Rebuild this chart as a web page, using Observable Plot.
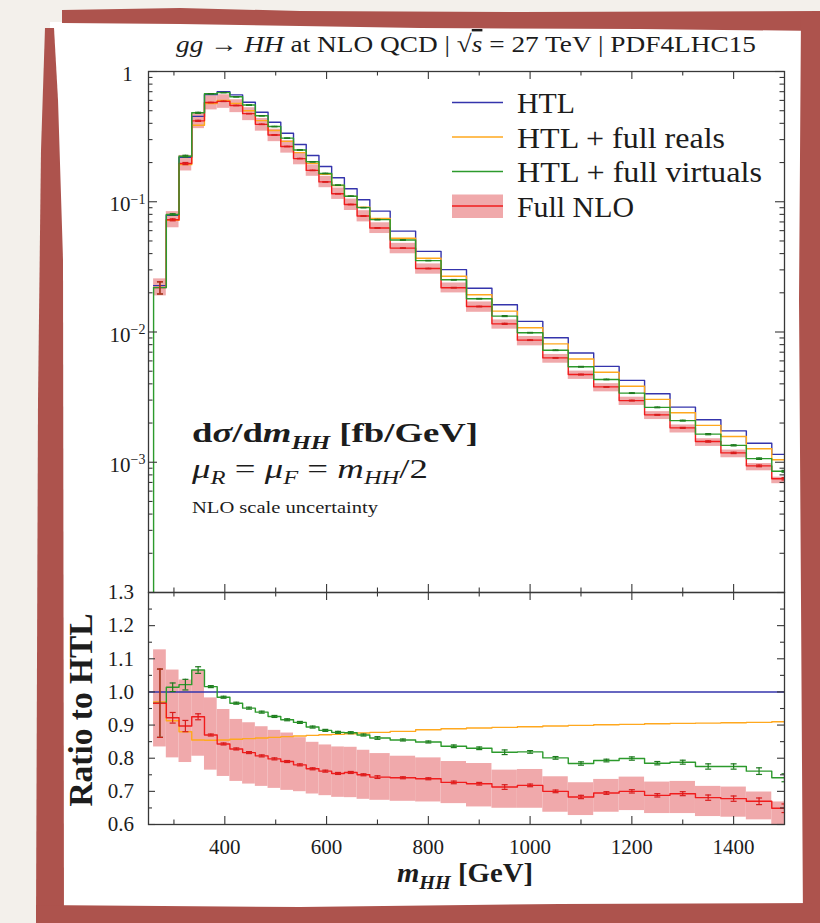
<!DOCTYPE html>
<html><head><meta charset="utf-8">
<script src="https://cdn.jsdelivr.net/npm/d3@7"></script>
<script src="https://cdn.jsdelivr.net/npm/@observablehq/plot@0.6"></script>
<style>
html,body{margin:0;padding:0;background:#f3f0eb;}
#chart{position:relative;width:820px;height:923px;overflow:hidden;}
#chart > svg{position:absolute;left:0;}
</style></head><body><div id="chart"></div>
<script>
// ---------------- data ----------------
const binEdges = [260, 285, 310, 335, 360, 385, 410, 435, 460, 485, 510, 535, 560, 585, 610, 635, 660, 685,
  725, 775, 825, 875, 925, 975, 1025, 1075, 1125, 1175, 1225, 1275, 1325, 1375, 1425, 1475, 1525];
const binCenters = [272.5, 297.5, 322.5, 347.5, 372.5, 397.5, 422.5, 447.5, 472.5, 497.5, 522.5, 547.5, 572.5,
  597.5, 622.5, 647.5, 672.5, 700, 750, 800, 850, 900, 950, 1000, 1050, 1100, 1150, 1200, 1250, 1300, 1350, 1400, 1450, 1500];
// HTL dσ/dm_HH [fb/GeV]
const htl = [0.0227, 0.0788, 0.219, 0.452, 0.664, 0.700, 0.662, 0.581, 0.487, 0.408, 0.336, 0.275, 0.2266, 0.1866,
  0.1528, 0.1258, 0.1036, 0.0847, 0.0595, 0.0416, 0.0301, 0.0217, 0.0162, 0.01206, 0.00904, 0.0069, 0.00545,
  0.00425, 0.00336, 0.00265, 0.00212, 0.00174, 0.0014, 0.00115];
// ratios to HTL
const ratioReals = [0.97, 0.913, 0.880, 0.855, 0.854, 0.855, 0.857, 0.859, 0.861, 0.863, 0.865, 0.867, 0.869, 0.871,
  0.872, 0.874, 0.876, 0.878, 0.881, 0.886, 0.889, 0.891, 0.893, 0.895, 0.897, 0.899, 0.901, 0.902, 0.904, 0.905,
  0.906, 0.907, 0.908, 0.910];
const ratioVirtuals = [0.966, 1.014, 1.022, 1.066, 1.016, 0.984, 0.966, 0.951, 0.939, 0.926, 0.916, 0.908, 0.894,
  0.884, 0.878, 0.877, 0.870, 0.861, 0.855, 0.849, 0.836, 0.830, 0.818, 0.819, 0.801, 0.784, 0.793, 0.799, 0.785,
  0.788, 0.775, 0.775, 0.761, 0.741];
const ratioNLO = [0.966, 0.922, 0.897, 0.925, 0.870, 0.843, 0.828, 0.817, 0.807, 0.798, 0.790, 0.780, 0.768, 0.761,
  0.754, 0.757, 0.750, 0.743, 0.741, 0.738, 0.727, 0.723, 0.713, 0.718, 0.700, 0.683, 0.695, 0.700, 0.688, 0.693,
  0.681, 0.678, 0.670, 0.649];
const nloBandHi = [1.127, 1.066, 1.036, 1.064, 0.982, 0.947, 0.917, 0.907, 0.895, 0.884, 0.876, 0.862, 0.848, 0.840,
  0.834, 0.833, 0.824, 0.814, 0.806, 0.801, 0.790, 0.784, 0.764, 0.766, 0.744, 0.726, 0.736, 0.743, 0.728, 0.730,
  0.715, 0.713, 0.698, 0.668];
const nloBandLo = [0.834, 0.801, 0.787, 0.806, 0.764, 0.745, 0.730, 0.722, 0.715, 0.709, 0.703, 0.699, 0.692, 0.687,
  0.682, 0.681, 0.676, 0.673, 0.670, 0.668, 0.663, 0.653, 0.649, 0.649, 0.637, 0.627, 0.637, 0.642, 0.633, 0.633,
  0.624, 0.622, 0.614, 0.595];
const errVirtuals = [0.103, 0.013, 0.016, 0.010, 0.003, 0.003, 0.003, 0.003, 0.003, 0.003, 0.003, 0.003, 0.003, 0.003,
  0.003, 0.003, 0.003, 0.004, 0.003, 0.003, 0.004, 0.004, 0.007, 0.004, 0.004, 0.005, 0.004, 0.005, 0.005, 0.006,
  0.008, 0.008, 0.010, 0.012];
const errNLO = [0.103, 0.016, 0.017, 0.009, 0.003, 0.003, 0.003, 0.003, 0.003, 0.003, 0.003, 0.003, 0.003, 0.003,
  0.003, 0.003, 0.003, 0.004, 0.003, 0.003, 0.004, 0.004, 0.007, 0.004, 0.004, 0.005, 0.004, 0.005, 0.005, 0.006,
  0.008, 0.008, 0.010, 0.013];

const xDomain = [250, 1500];
const logDomain = [1e-4, 1];
const ratioDomain = [0.6, 1.3];
const xMajorTicks = [400, 600, 800, 1000, 1200, 1400];
const xMinorTicks = [300, 500, 700, 900, 1100, 1300];
const logTicks = [1, 0.1, 0.01, 0.001];
const ratioTicks = [0.6, 0.7, 0.8, 0.9, 1.0, 1.1, 1.2, 1.3];
const ratioMinorTicks = [0.65, 0.75, 0.85, 0.95, 1.05, 1.15, 1.25];
const seriesNames = ["HTL", "HTL + full reals", "HTL + full virtuals", "Full NLO"];

// ---------------- style ----------------
const C = {htl: "#3434ac", reals: "#ffa81e", virt: "#2c9a2c", nlo: "#f01c1c", band: "#f0a9ab",
  virtErr: "#1f7a1f", nloErr: "#d81c1c", axis: "#383838", text: "#1c1c1c"};
const FONT = "'Liberation Serif', 'Times New Roman', serif";
const LW = 1.4;

const bins = htl.map((h, i) => ({
  x1: binEdges[i], x2: binEdges[i + 1], xc: binCenters[i], htl: h,
  reals: ratioReals[i], virt: ratioVirtuals[i], nlo: ratioNLO[i],
  lo: nloBandLo[i], hi: nloBandHi[i], ev: errVirtuals[i], en: errNLO[i]
}));
const steps = (f) => bins.flatMap(b => [{x: b.x1, y: f(b)}, {x: b.x2, y: f(b)}]);
const capSymbol = {draw(ctx, size) { const r = Math.sqrt(size / Math.PI); ctx.moveTo(-r, 0); ctx.lineTo(r, 0); }};

function errorBars(yc, err, color) {
  return [
    Plot.ruleX(bins, {x: "xc", y1: b => yc(b) - err(b), y2: b => yc(b) + err(b), stroke: color, strokeWidth: 1.2, clip: true}),
    Plot.dot(bins, {x: "xc", y: b => yc(b) - err(b), r: 3, symbol: capSymbol, stroke: color, strokeWidth: 1.2, fill: "none", clip: true}),
    Plot.dot(bins, {x: "xc", y: b => yc(b) + err(b), r: 3, symbol: capSymbol, stroke: color, strokeWidth: 1.2, fill: "none", clip: true})
  ];
}
function boxTicks(fw, fh, yMaj, yMin, LY, lY) {
  const st = {stroke: C.axis, strokeWidth: 1.1};
  const L = 8, l = 4.5;
  return [
    Plot.tickX(xMajorTicks, {x: d => d, insetBottom: fh - L, ...st}),
    Plot.tickX(xMajorTicks, {x: d => d, insetTop: fh - L, ...st}),
    Plot.tickX(xMinorTicks, {x: d => d, insetBottom: fh - l, ...st}),
    Plot.tickX(xMinorTicks, {x: d => d, insetTop: fh - l, ...st}),
    Plot.tickY(yMaj, {y: d => d, insetRight: fw - LY, ...st}),
    Plot.tickY(yMaj, {y: d => d, insetLeft: fw - LY, ...st}),
    Plot.tickY(yMin, {y: d => d, insetRight: fw - lY, ...st}),
    Plot.tickY(yMin, {y: d => d, insetLeft: fw - lY, ...st})
  ];
}
const svgStyle = {background: "transparent", overflow: "visible", fontFamily: FONT, fontSize: "21px", color: C.text};

// ---------------- upper panel ----------------
const UP = {W: 820, H: 600, mL: 148, mR: 36, mT: 71, mB: 8};
const upFW = UP.W - UP.mL - UP.mR, upFH = UP.H - UP.mT - UP.mB;
const logMinor = d3.scaleLog().domain(logDomain).ticks().filter(d => Math.abs(Math.log10(d) - Math.round(Math.log10(d))) > 1e-6);

const upper = Plot.plot({
  width: UP.W, height: UP.H, marginLeft: UP.mL, marginRight: UP.mR, marginTop: UP.mT, marginBottom: UP.mB,
  x: {domain: xDomain, axis: null},
  y: {type: "log", domain: logDomain, axis: null},
  style: svgStyle,
  marks: [
    Plot.rect(bins, {x1: "x1", x2: "x2", y1: b => b.htl * b.lo, y2: b => b.htl * b.hi, fill: C.band, clip: true}),
    Plot.line(steps(b => b.htl), {x: "x", y: "y", stroke: C.htl, strokeWidth: LW, clip: true}),
    Plot.line(steps(b => b.htl * b.reals), {x: "x", y: "y", stroke: C.reals, strokeWidth: LW, clip: true}),
    Plot.line(steps(b => b.htl * b.nlo), {x: "x", y: "y", stroke: C.nlo, strokeWidth: LW, clip: true}),
    Plot.line(steps(b => b.htl * b.virt), {x: "x", y: "y", stroke: C.virt, strokeWidth: LW, clip: true}),
    Plot.ruleX([bins[0]], {x: "x1", y1: logDomain[0], y2: b => b.htl * b.virt, stroke: C.virt, strokeWidth: LW}),
    ...errorBars(b => b.htl * b.virt, b => b.htl * b.ev, C.virtErr),
    ...errorBars(b => b.htl * b.nlo, b => b.htl * b.en, C.nloErr),
    Plot.frame({stroke: C.axis, strokeWidth: 1.3}),
    ...boxTicks(upFW, upFH, logTicks, logMinor, 9, 4.5),
    Plot.text(logTicks, {y: d => d, frameAnchor: "left", dx: -21, dy: 3, textAnchor: "middle", fontSize: 21,
      text: d => d === 1 ? "1" : "10^" + Math.round(Math.log10(d)), fill: C.text})
  ]
});
upper.style.top = "0px";
upper.querySelectorAll("text").forEach(t => {
  const s = t.textContent;
  if (s.includes("^")) {
    const [b, e] = s.split("^");
    t.textContent = b;
    const ts = document.createElementNS("http://www.w3.org/2000/svg", "tspan");
    ts.setAttribute("dy", "-0.55em");
    ts.setAttribute("font-size", "14px");
    ts.textContent = e.replace("-", "\u2212");
    t.appendChild(ts);
  }
});

// ---------------- lower panel ----------------
const LO = {W: 820, H: 340, top: 560, mL: 148, mR: 36, mT: 32, mB: 76};
const loFW = LO.W - LO.mL - LO.mR, loFH = LO.H - LO.mT - LO.mB;
const lower = Plot.plot({
  width: LO.W, height: LO.H, marginLeft: LO.mL, marginRight: LO.mR, marginTop: LO.mT, marginBottom: LO.mB,
  x: {domain: xDomain, axis: null},
  y: {domain: ratioDomain, axis: null},
  style: svgStyle,
  marks: [
    Plot.rect(bins, {x1: "x1", x2: "x2", y1: "lo", y2: "hi", fill: C.band, clip: true}),
    Plot.ruleY([1], {stroke: C.htl, strokeWidth: LW}),
    Plot.line(steps(b => b.reals), {x: "x", y: "y", stroke: C.reals, strokeWidth: LW, clip: true}),
    Plot.line(steps(b => b.virt), {x: "x", y: "y", stroke: C.virt, strokeWidth: LW, clip: true}),
    Plot.line(steps(b => b.nlo), {x: "x", y: "y", stroke: C.nlo, strokeWidth: LW, clip: true}),
    ...errorBars(b => b.virt, b => b.ev, C.virtErr),
    ...errorBars(b => b.nlo, b => b.en, C.nloErr),
    Plot.frame({stroke: C.axis, strokeWidth: 1.3}),
    ...boxTicks(loFW, loFH, ratioTicks, ratioMinorTicks, 7, 4),
    Plot.axisX(xMajorTicks, {anchor: "bottom", tickSize: 0, tickPadding: 15, label: null, fontSize: 21, fill: C.text,
      tickFormat: d => String(d)}),
    Plot.axisY(ratioTicks, {anchor: "left", tickSize: 0, tickPadding: 14.5, tickFormat: d3.format(".1f"), label: null, fontSize: 21, fill: C.text})
  ]
});
lower.style.top = LO.top + "px";

// ---------------- page decoration ----------------
const chart = document.getElementById("chart");
const deco = d3.create("svg").attr("width", 820).attr("height", 923).style("top", "0px");
deco.append("rect").attr("x", 50).attr("y", 22).attr("width", 756).attr("height", 886).attr("fill", "#ffffff");
const red = "#ad534d";
deco.append("path").attr("fill", red).attr("d", "M62,10 L180,8 L300,11 L520,12 L820,11 L820,31 L640,29 L420,28 L300,26 L180,24 L62,23 Z");
deco.append("path").attr("fill", red).attr("d", "M45,28 L54,28 L58,100 L63,260 L64,923 L36,923 L38,400 L41,150 Z");
deco.append("path").attr("fill", red).attr("d", "M801,14 L820,12 L820,923 L803,923 L801,600 L799,300 Z");
deco.append("path").attr("fill", red).attr("d", "M36,905 L300,907 L560,904 L820,903 L820,923 L36,923 Z");
chart.appendChild(deco.node());
chart.appendChild(upper);
chart.appendChild(lower);

// ---------------- titles, legend, labels ----------------
const ov = d3.create("svg").attr("width", 820).attr("height", 923).style("top", "0px")
  .attr("font-family", FONT).attr("fill", C.text);
function label(parts, {x, y, size, weight = "normal", anchor = "start", len = null, rotate = 0}) {
  const t = ov.append("text").attr("font-size", size).attr("font-weight", weight).attr("text-anchor", anchor)
    .attr("transform", `translate(${x},${y}) rotate(${rotate})`);
  if (len) t.attr("textLength", len).attr("lengthAdjust", "spacingAndGlyphs");
  parts.forEach(p => {
    const s = t.append("tspan").text(p.t);
    if (p.i) s.attr("font-style", "italic");
    if (p.dy) s.attr("dy", p.dy);
    if (p.size) s.attr("font-size", p.size);
    if (p.over) s.style("text-decoration", "overline");
  });
  return t;
}
label([{t: "gg", i: 1}, {t: " \u2192 "}, {t: "HH", i: 1}, {t: " at NLO QCD | \u221A"}, {t: "s", i: 1, over: 1},
  {t: " = 27 TeV | PDF4LHC15"}], {x: 466, y: 52, size: 24, anchor: "middle", len: 580});

// legend
const legY = [113, 147.5, 182, 216.5];
const legLen = [58, 208, 245, 117];
const legColor = [C.htl, C.reals, C.virt, C.nlo];
ov.append("rect").attr("x", 452).attr("y", legY[3] - 22).attr("width", 51).attr("height", 23.5).attr("fill", C.band);
seriesNames.forEach((name, i) => {
  ov.append("line").attr("x1", 452).attr("x2", 503).attr("y1", legY[i] - 10.5).attr("y2", legY[i] - 10.5)
    .attr("stroke", legColor[i]).attr("stroke-width", LW);
  label([{t: name}], {x: 517, y: legY[i], size: 30, len: legLen[i]});
});

// annotations
label([{t: "d"}, {t: "\u03C3", i: 1}, {t: "/d"}, {t: "m", i: 1}, {t: "HH", i: 1, dy: 7, size: 19}, {t: " [fb/GeV]", dy: -7}],
  {x: 192, y: 442, size: 28, weight: "bold", len: 286});
label([{t: "\u03BC", i: 1}, {t: "R", i: 1, dy: 6, size: 18}, {t: " = ", dy: -6}, {t: "\u03BC", i: 1}, {t: "F", i: 1, dy: 6, size: 18},
  {t: " = ", dy: -6}, {t: "m", i: 1}, {t: "HH", i: 1, dy: 6, size: 18}, {t: "/2", dy: -6}],
  {x: 192, y: 478, size: 27, len: 236});
label([{t: "NLO scale uncertainty"}], {x: 192, y: 513, size: 17, len: 186});

// axis labels
label([{t: "m", i: 1}, {t: "HH", i: 1, dy: 7, size: 19}, {t: " [GeV]", dy: -7}], {x: 397, y: 882, size: 27, weight: "bold", len: 136});
label([{t: "Ratio to HTL"}], {x: 91.5, y: 710, size: 33, weight: "bold", anchor: "middle", len: 193, rotate: -90});

chart.appendChild(ov.node());
</script></body></html>
